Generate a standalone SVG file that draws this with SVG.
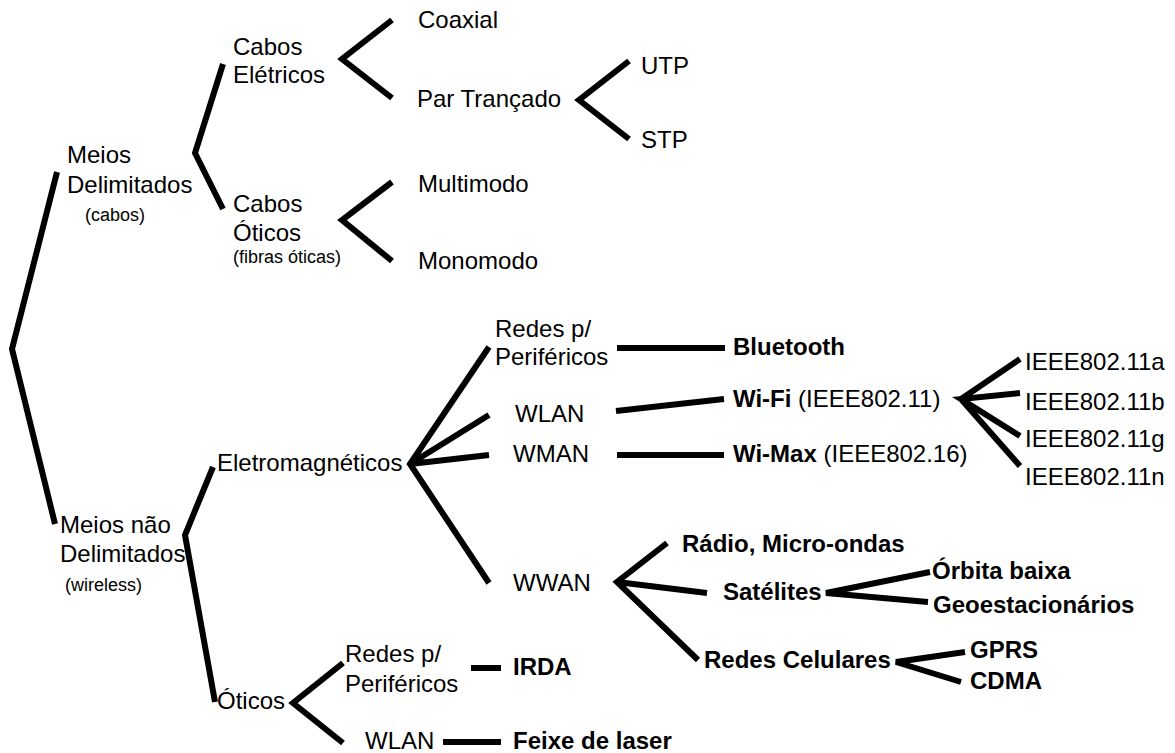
<svg xmlns="http://www.w3.org/2000/svg" width="1175" height="753" viewBox="0 0 1175 753">
  <style>
    text { font-family: "Liberation Sans", Arial, sans-serif; font-size: 24px; fill: #000; }
    .b { font-weight: bold; }
    .s { font-size: 18px; }
    .link { fill: none; stroke: #000; stroke-width: 6; stroke-linejoin: miter; stroke-linecap: butt; }
  </style>
  <rect width="1175" height="753" fill="#fff"/>

  <!-- connectors -->
  <g id="connectors" class="link">
    <path d="M57,172 L12,349 L55,524"/>
    <path d="M223,64 L195,153 L223,209"/>
    <path d="M392,20 L342,59 L392,98"/>
    <path d="M392,182 L342,220 L392,261"/>
    <path d="M629,61 L579,100 L629,139"/>
    <path d="M213,467 L185,535 L215,702"/>
    <path d="M489,347 L410,464 L489,583 M489,415 L410,464 L489,455"/>
    <path d="M617,348 H725"/>
    <path d="M616,411 L724,399"/>
    <path d="M617,455 H724"/>
    <path d="M1020,359 L961,399 L1020,466 M1020,393 L961,399 L1020,436"/>
    <path d="M667,543 L617,582 L698,660 M617,582 L707,593"/>
    <path d="M930,572 L826,593 L928,602"/>
    <path d="M965,652 L896,662 L961,682"/>
    <path d="M343,663 L293,703 L343,743"/>
    <path d="M471,668 H501"/>
    <path d="M443,742 H501"/>
  </g>

  <!-- bounded media (cables) -->
  <g id="meios-delimitados">
    <text x="67" y="163">Meios</text>
    <text x="67" y="193">Delimitados</text>
    <text class="s" x="85" y="221">(cabos)</text>
  </g>
  <g id="cabos-eletricos">
    <text x="233" y="55">Cabos</text>
    <text x="233" y="83">Elétricos</text>
  </g>
  <g id="coaxial"><text x="418" y="28">Coaxial</text></g>
  <g id="par-trancado"><text x="417" y="107">Par Trançado</text></g>
  <g id="utp"><text x="641" y="74">UTP</text></g>
  <g id="stp"><text x="641" y="148">STP</text></g>
  <g id="cabos-oticos">
    <text x="233" y="212">Cabos</text>
    <text x="233" y="241">Óticos</text>
    <text class="s" x="233" y="263">(fibras óticas)</text>
  </g>
  <g id="multimodo"><text x="418" y="192">Multimodo</text></g>
  <g id="monomodo"><text x="418" y="269">Monomodo</text></g>

  <!-- unbounded media (wireless) -->
  <g id="meios-nao-delimitados">
    <text x="60" y="533">Meios não</text>
    <text x="60" y="562">Delimitados</text>
    <text class="s" x="65" y="591">(wireless)</text>
  </g>
  <g id="eletromagneticos"><text x="217" y="471">Eletromagnéticos</text></g>
  <g id="redes-perifericos">
    <text x="495" y="337">Redes p/</text>
    <text x="495" y="365">Periféricos</text>
  </g>
  <g id="bluetooth"><text class="b" x="733" y="355">Bluetooth</text></g>
  <g id="wlan"><text x="515" y="422">WLAN</text></g>
  <g id="wifi"><text x="733" y="407"><tspan class="b">Wi-Fi</tspan> (IEEE802.11)</text></g>
  <g id="wman"><text x="513" y="462">WMAN</text></g>
  <g id="wimax"><text x="733" y="462"><tspan class="b">Wi-Max</tspan> (IEEE802.16)</text></g>
  <g id="ieee-a"><text x="1025" y="370">IEEE802.11a</text></g>
  <g id="ieee-b"><text x="1025" y="410">IEEE802.11b</text></g>
  <g id="ieee-g"><text x="1025" y="447">IEEE802.11g</text></g>
  <g id="ieee-n"><text x="1025" y="485">IEEE802.11n</text></g>
  <g id="wwan"><text x="513" y="591">WWAN</text></g>
  <g id="radio"><text class="b" x="682" y="552">Rádio, Micro-ondas</text></g>
  <g id="satelites"><text class="b" x="723" y="600">Satélites</text></g>
  <g id="orbita-baixa"><text class="b" x="932" y="579">Órbita baixa</text></g>
  <g id="geoestacionarios"><text class="b" x="933" y="613">Geoestacionários</text></g>
  <g id="redes-celulares"><text class="b" x="704" y="668">Redes Celulares</text></g>
  <g id="gprs"><text class="b" x="970" y="658">GPRS</text></g>
  <g id="cdma"><text class="b" x="970" y="689">CDMA</text></g>
  <g id="oticos"><text x="217" y="709">Óticos</text></g>
  <g id="redes-perifericos-oticos">
    <text x="345" y="662">Redes p/</text>
    <text x="345" y="692">Periféricos</text>
  </g>
  <g id="irda"><text class="b" x="513" y="675">IRDA</text></g>
  <g id="wlan-oticos"><text x="365" y="749">WLAN</text></g>
  <g id="feixe-laser"><text class="b" x="513" y="749">Feixe de laser</text></g>
</svg>
